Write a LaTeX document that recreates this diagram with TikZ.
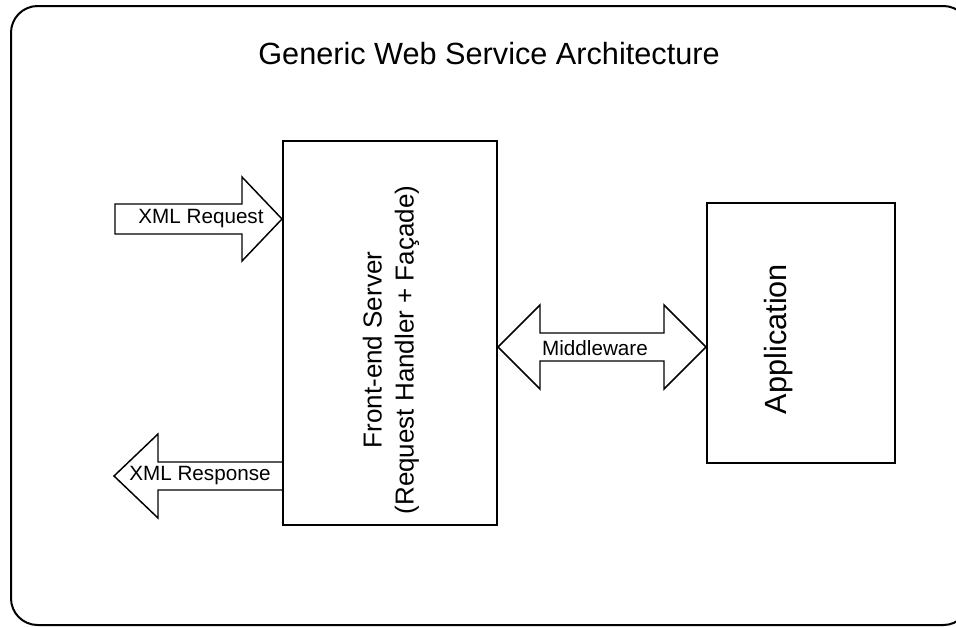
\documentclass[tikz,border=0pt]{standalone}
\usepackage{fontspec}
\setmainfont{Liberation Sans}
\usetikzlibrary{calc}

\begin{document}
\begin{tikzpicture}[x=0.75pt, y=-0.75pt,
  box/.style={draw, line width=1.5pt, inner sep=0pt},
  blockarr/.style={draw, line width=1.1pt, line join=miter},
  lbl/.style={font=\fontsize{15.5}{18}\selectfont, inner sep=0pt},
  boxlbl/.style={font=\fontsize{19.5}{24}\selectfont, rotate=90, align=center}]
\useasboundingbox (0,0) rectangle (956,626);
\draw[line width=1.5pt, rounded corners=20pt] (11,6) rectangle (970,625);
\node[font=\fontsize{23}{28}\selectfont, anchor=base] (title) at (489,64) {Generic Web Service Architecture};

\node[box, minimum width=160.5pt, minimum height=288pt] (front) at (390,333) {};
\node[box, minimum width=141pt, minimum height=195pt] (app) at (801,333) {};
\node[boxlbl] (frontlbl) at (391,350) {Front-end Server\\(Request Handler + Façade)};
\node[boxlbl, font=\fontsize{23}{28}\selectfont] (applbl) at (779,339) {Application};

% request comes in from the left
\coordinate (reqtip) at ($(front.west)+(0,-114)$);
\draw[blockarr] (reqtip) -- ++(-40,-42) -- ++(0,27) -- ++(-127,0) -- ++(0,30) -- ++(127,0) -- ++(0,27) -- cycle;
\node[lbl] (req) at (201,219) {XML Request};

% response goes back out
\coordinate (resend) at ($(front.west)+(0,143)$);
\draw[blockarr] ($(resend)+(0,-14)$) -- ++(-124,0) -- ++(0,-28) -- ++(-44,42) -- ++(44,42) -- ++(0,-28) -- ++(124,0);
\node[lbl] (res) at (200,476) {XML Response};

% middleware between server and application
\coordinate (mwl) at ($(front.east)+(0,14)$);
\coordinate (mwr) at ($(app.west)+(0,14)$);
\draw[blockarr] (mwl) -- ++(42,-42) -- ++(0,28) -- ($(mwr)+(-42,-14)$) -- ++(0,-28) -- (mwr)
  -- ++(-42,42) -- ++(0,-28) -- ($(mwl)+(42,14)$) -- ++(0,28) -- cycle;
\node[lbl] (mw) at (595,348) {Middleware};
\end{tikzpicture}
\end{document}
